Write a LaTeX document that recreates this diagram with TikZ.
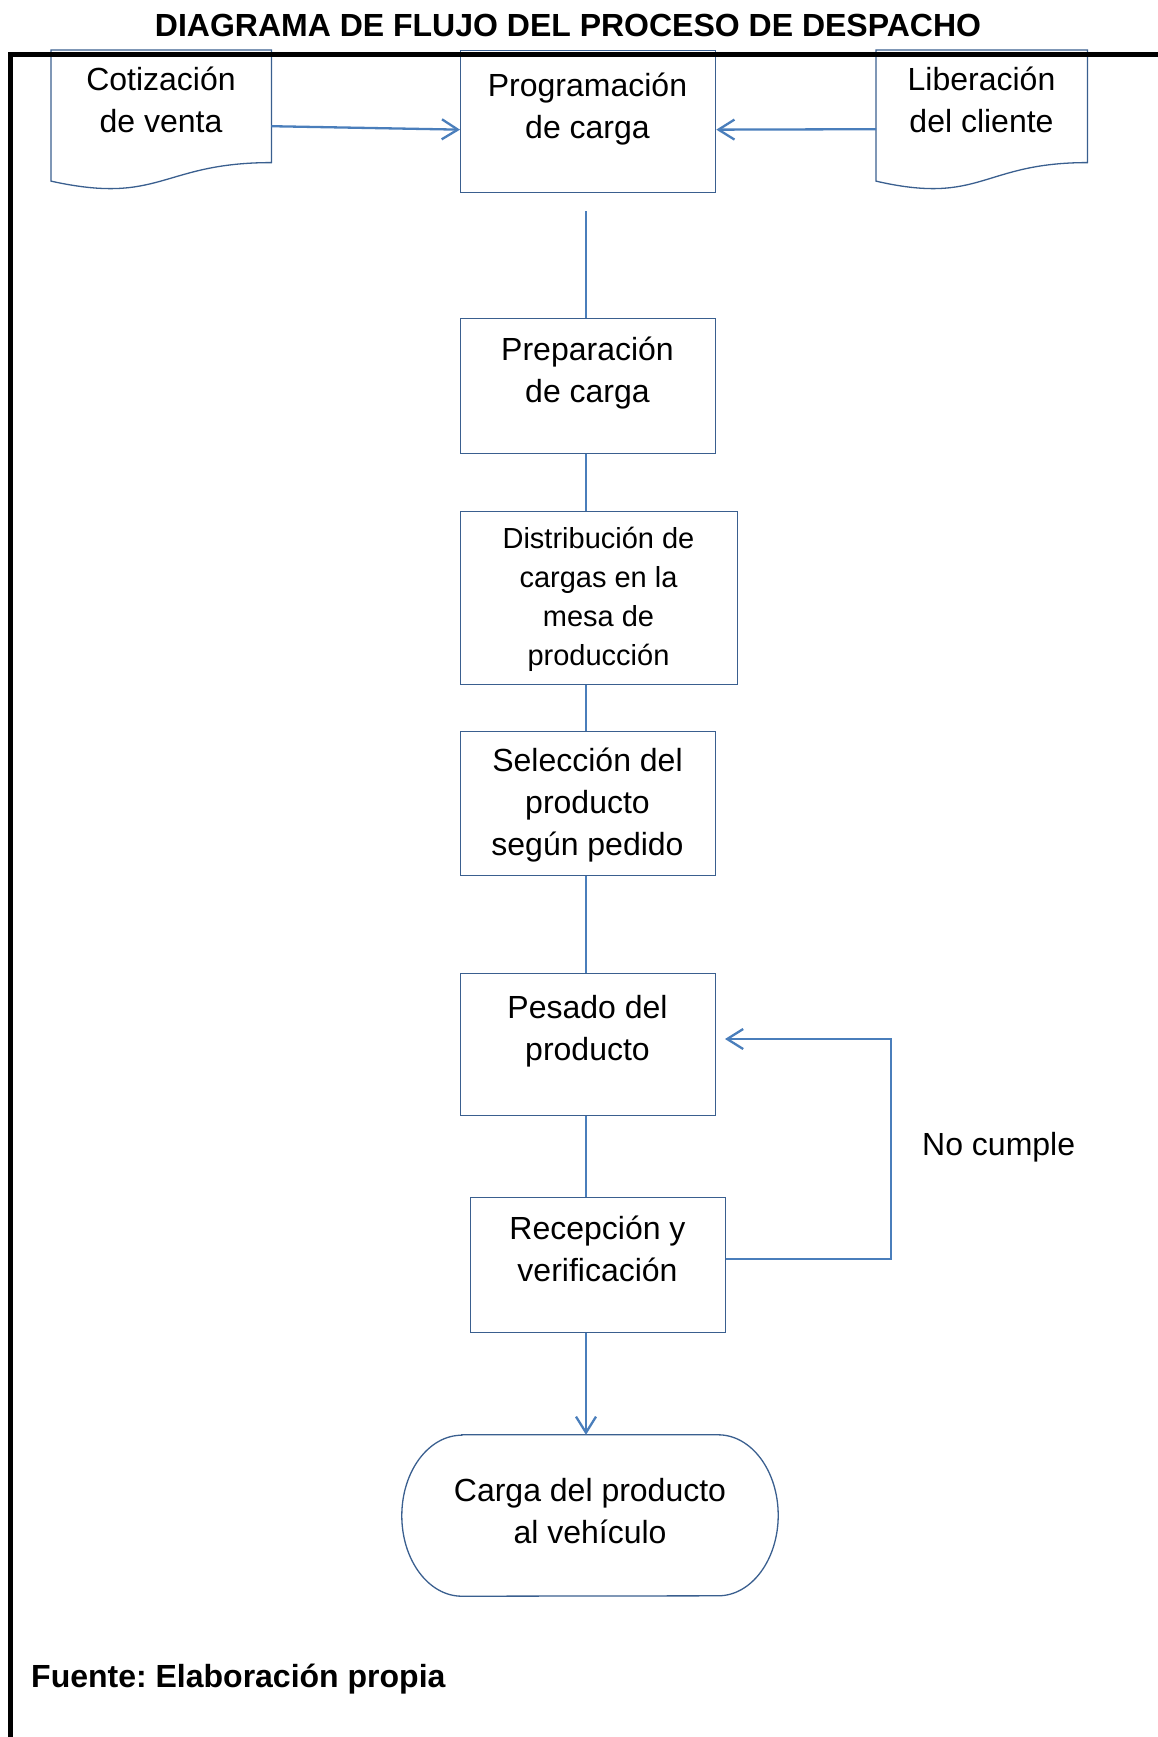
\documentclass[tikz,border=0pt]{standalone}
\usepackage{fontspec}
\setmainfont{Liberation Sans}
\usetikzlibrary{arrows.meta,calc}
\definecolor{boxblue}{HTML}{3A5F8F}
\definecolor{connblue}{HTML}{4A7EBB}
\newcommand{\lsA}{\rule[-11pt]{0pt}{42pt}}
\newcommand{\lsB}{\rule[-10pt]{0pt}{39pt}}
\frenchspacing
\begin{document}
\begin{tikzpicture}[x=1pt,y=-1pt,
  boxshape/.style={draw=boxblue,line width=1.3pt,inner sep=0pt,anchor=north west},
  docnode/.style={inner sep=0pt,anchor=north west},
  boxline/.style={draw=boxblue,line width=1.3pt},
  conn/.style={draw=connblue,line width=2.3pt},
  arr/.style={-{Straight Barb[length=16pt,width=20pt]}},
  txt/.style={font=\fontsize{32}{42}\selectfont,align=center,inner sep=0pt,anchor=north},
  txtsmall/.style={font=\fontsize{29}{39}\selectfont,align=center,inner sep=0pt,anchor=north},
  boldtxt/.style={font=\fontsize{32}{38}\selectfont\bfseries,inner sep=0pt},
]
\useasboundingbox (0,0) rectangle (1158,1737);

% boxes
\node[boxshape,minimum width=255pt,minimum height=142pt] (prog) at (460,50) {};
\node[boxshape,minimum width=255pt,minimum height=135pt] (prep) at (460,318) {};
\node[boxshape,minimum width=277pt,minimum height=173pt] (dist) at (460,511) {};
\node[boxshape,minimum width=255pt,minimum height=144pt] (sel) at (460,731) {};
\node[boxshape,minimum width=255pt,minimum height=142pt] (pes) at (460,973) {};
\node[boxshape,minimum width=255pt,minimum height=135pt] (rec) at (470,1197) {};

% document shapes
\node[docnode,minimum width=220pt,minimum height=140pt] (cot) at (51,50) {};
\node[docnode,minimum width=211pt,minimum height=140pt] (lib) at (876,50) {};
\foreach \d in {cot,lib}{
  \draw[boxline] (\d.north west) -- (\d.north east)
    -- ($(\d.north east)!0.802!(\d.south east)$)
    .. controls ($(\d.north)!0.802!(\d.south)$) and ($(\d.north)!1.1075!(\d.south)$)
    .. ($(\d.north west)!0.934!(\d.south west)$) -- cycle;
}

% terminator
\node[inner sep=0pt,minimum width=376pt,minimum height=161pt] (term) at (590,1515.5) {};
\draw[boxline] ([xshift=60pt]term.north west) -- ([xshift=-60pt]term.north east)
  arc[start angle=90,end angle=-90,x radius=60pt,y radius=80.5pt]
  -- ([xshift=60pt]term.south west)
  arc[start angle=270,end angle=90,x radius=60pt,y radius=80.5pt] -- cycle;

% connectors
\coordinate (spine) at (586,0);
\coordinate (p0) at (586,211);
\coordinate (lpA) at (891,1259);
\coordinate (lpB) at (891,1039);
\coordinate (lpC) at (725,1039);

\draw[conn,arr] ([yshift=-6pt]cot.east) -- ([yshift=-8pt]prog.west);
\draw[conn,arr] ([yshift=-9pt]lib.west) -- ([yshift=-8pt]prog.east);
\draw[conn] (p0) -- (spine |- prep.north);
\draw[conn] (spine |- prep.south) -- (spine |- dist.north);
\draw[conn] (spine |- dist.south) -- (spine |- sel.north);
\draw[conn] (spine |- sel.south) -- (spine |- pes.north);
\draw[conn] (spine |- pes.south) -- (spine |- rec.north);
\draw[conn,arr] (spine |- rec.south) -- (spine |- term.north);
\draw[conn,arr] (rec.east |- lpA) -- (lpA) -- (lpB) -- (lpC);

% frame
\draw[line width=5pt,black] (1165,55) -- (10.8,55) -- (10.8,1745);

% texts
\node[boldtxt,anchor=base] (title) at (568,37) {DIAGRAMA DE FLUJO DEL PROCESO DE DESPACHO};
\node[txt] (cott) at (161,59) {\lsA Cotización\\\lsA de venta};
\node[txt] (libt) at (981.5,59) {\lsA Liberación\\\lsA del cliente};
\node[txt] (progt) at (587.5,65.5) {\lsA Programación\\\lsA de carga};
\node[txt] (prept) at (587.5,329) {\lsA Preparación\\\lsA de carga};
\node[txtsmall] (distt) at (598.5,519) {\lsB Distribución de\\\lsB cargas en la\\\lsB mesa de\\\lsB producción};
\node[txt] (selt) at (587.5,740) {\lsA Selección del\\\lsA producto\\\lsA según pedido};
\node[txt] (pest) at (587.5,987) {\lsA Pesado del\\\lsA producto};
\node[txt] (rect) at (597.5,1208) {\lsA Recepción y\\\lsA verificación};
\node[font=\fontsize{32}{42}\selectfont,inner sep=0pt,anchor=base west] (nc) at (922,1155) {No cumple};
\node[txt] (termt) at (590,1470) {\lsA Carga del producto\\\lsA al vehículo};
\node[boldtxt,anchor=base west] (fuente) at (31,1687) {Fuente: Elaboración propia};
\end{tikzpicture}
\end{document}
